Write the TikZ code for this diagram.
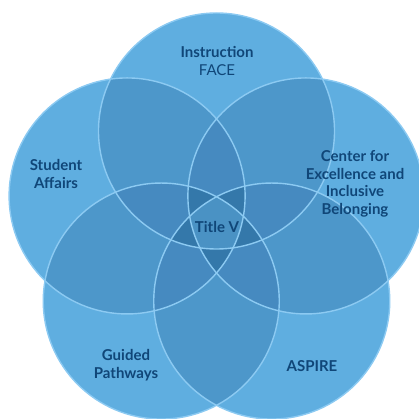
\documentclass[tikz,border=0pt]{standalone}
\usepackage{fontspec}
\setmainfont{Lato}
\usetikzlibrary{positioning}
\definecolor{vennlight}{RGB}{95,174,224}
\definecolor{venntwo}{RGB}{77,151,202}
\definecolor{vennthree}{RGB}{70,138,192}
\definecolor{vennfour}{RGB}{52,120,170}
\definecolor{vennfive}{RGB}{74,146,196}
\definecolor{vennedge}{RGB}{140,202,242}
\definecolor{venntext}{RGB}{16,70,120}

\tikzset{
    vennlbl/.style={text=venntext, align=center, inner sep=0pt,
                    font=\bfseries\fontsize{15}{17.5}\selectfont},
}

\begin{document}
\begin{tikzpicture}[x=1pt, y=1pt]
    \useasboundingbox (0,0) rectangle (419,419);
    \def\R{118pt}
    \coordinate (o) at (216.5,194);
    \foreach \i in {0,...,4}
        \path (o) ++(90+72*\i:94pt) coordinate (c\i);

    % single
    \foreach \i in {0,...,4}
        \fill[vennlight] (c\i) circle[radius=\R];
    % pairs
    \foreach \i in {0,...,4} {
        \pgfmathtruncatemacro\j{mod(\i+1,5)}
        \pgfmathtruncatemacro\k{mod(\i+2,5)}
        \begin{scope}
            \clip (c\i) circle[radius=\R];
            \fill[venntwo] (c\j) circle[radius=\R];
            \fill[venntwo] (c\k) circle[radius=\R];
        \end{scope}
    }
    % triples
    \foreach \i in {0,...,4} {
        \pgfmathtruncatemacro\j{mod(\i+1,5)}
        \pgfmathtruncatemacro\k{mod(\i+2,5)}
        \pgfmathtruncatemacro\l{mod(\i+3,5)}
        \begin{scope}
            \clip (c\i) circle[radius=\R];
            \clip (c\j) circle[radius=\R];
            \fill[vennthree] (c\k) circle[radius=\R];
            \fill[vennthree] (c\l) circle[radius=\R];
        \end{scope}
    }
    % four and five
    \foreach \i in {0,...,4} {
        \pgfmathtruncatemacro\j{mod(\i+1,5)}
        \pgfmathtruncatemacro\k{mod(\i+2,5)}
        \pgfmathtruncatemacro\l{mod(\i+3,5)}
        \pgfmathtruncatemacro\m{mod(\i+4,5)}
        \begin{scope}
            \clip (c\j) circle[radius=\R];
            \clip (c\k) circle[radius=\R];
            \clip (c\l) circle[radius=\R];
            \fill[vennfour] (c\m) circle[radius=\R];
        \end{scope}
    }
    \begin{scope}
        \clip (c0) circle[radius=\R];
        \clip (c1) circle[radius=\R];
        \clip (c2) circle[radius=\R];
        \clip (c3) circle[radius=\R];
        \fill[vennfive] (c4) circle[radius=\R];
    \end{scope}

    % outlines
    \foreach \i in {0,...,4}
        \draw[vennedge, line width=1.4pt] (c\i) circle[radius=\R];

    \node[vennlbl] (instr) at (217,358) {Instruction\\{\mdseries FACE}};
    \node[vennlbl] (student) at (56,245) {Student\\Affairs};
    \node[vennlbl] (cebl) at (355,235) {Center for\\Excellence and\\Inclusive\\Belonging};
    \node[vennlbl] (titlev) at (217,192) {Title V};
    \node[vennlbl] (guided) at (126,54) {Guided\\Pathways};
    \node[vennlbl] (aspire) at (312,53) {ASPIRE};
\end{tikzpicture}
\end{document}
